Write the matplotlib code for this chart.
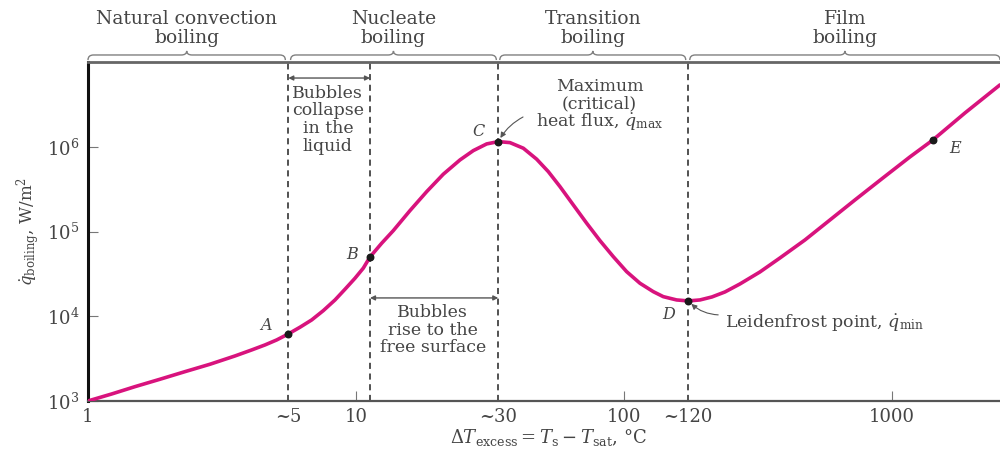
import numpy as np
import matplotlib.pyplot as plt
from matplotlib.path import Path
from matplotlib.patches import PathPatch

plt.rcParams["font.family"] = "DejaVu Serif"
plt.rcParams["mathtext.fontset"] = "dejavuserif"

# boiling curve (log-log axes)
dT = [1.00, 1.226, 1.497, 1.856, 2.301, 2.853, 3.537, 4.081, 4.575, 5.060,
      5.590, 6.180, 6.834, 7.551, 8.351, 9.100, 9.915, 10.65, 11.28, 12.47,
      13.78, 15.90, 18.36, 21.17, 24.44, 27.40, 30.74, 33.96, 37.54, 42.11,
      47.24, 52.19, 57.70, 64.69, 72.58, 81.36, 91.22, 102.3, 114.7, 128.6,
      140.1, 157.2, 173.8, 192.1, 213.0, 238.2, 270.9, 321.7, 382.1, 473.6,
      587.2, 727.8, 925.6, 1167, 1422, 1873, 2529]
q = [1000, 1209, 1475, 1804, 2218, 2713, 3399, 4001, 4583, 5252,
     6180, 7416, 9044, 11645, 15572, 20837, 28093, 37000, 50100, 72760,
     1.025e5, 1.765e5, 2.959e5, 4.748e5, 7.003e5, 9.019e5, 1.082e6, 1.152e6,
     1.121e6, 9.627e5, 7.138e5, 5.096e5, 3.390e5, 2.061e5, 1.253e5, 78080,
     50530, 33620, 24520, 19520, 17040, 15570, 15160, 15570, 16900, 19360,
     24060, 33340, 48790, 79570, 1.371e5, 2.361e5, 4.295e5, 7.601e5, 1.206e6,
     2.513e6, 5.380e6]

pt_names = ["A", "B", "C", "D", "E"]
pt_dT = [5.59, 11.28, 33.96, 173.8, 1422]
pt_q = [6180, 50100, 1.152e6, 15160, 1.206e6]

bounds = [5.59, 11.28, 33.96, 173.8]  # dashed regime boundaries
regions = ["Natural convection\nboiling", "Nucleate\nboiling",
           "Transition\nboiling", "Film\nboiling"]
region_span = [(1.0, 5.45), (5.7, 33.4), (34.4, 170), (176, 2530)]

xmaj = [1, 10, 100, 1000]
xmaj_lab = ["1", "10", "100", "1000"]
xmin_ = [5.59, 33.96, 173.8]
xmin_lab = ["~5", "~30", "~120"]
yticks = [1e3, 1e4, 1e5, 1e6]
ylabs = [r"$10^3$", r"$10^4$", r"$10^5$", r"$10^6$"]

XMAX = 2530
INK = "#454545"
MAG = "#d8137d"

fig = plt.figure(figsize=(10, 4.5), dpi=100)
ax = fig.add_axes([0.088, 0.109, 0.912, 0.753])
ax.set_xscale("log")
ax.set_yscale("log")
ax.set_xlim(1, XMAX)
ax.set_ylim(1e3, 1e7)

for b in bounds:
    ax.axvline(b, color="#222222", lw=1.1, dashes=(4, 3), zorder=2)

ax.plot(dT, q, color=MAG, lw=2.6, solid_capstyle="round",
        solid_joinstyle="round", zorder=3)
ax.scatter(pt_dT, pt_q, s=22, color="#1a1a1a", zorder=4)
offs = {"A": (-16, 6), "B": (-13, 2), "C": (-14, 7), "D": (-14, -10), "E": (16, -6)}
for n, x, y in zip(pt_names, pt_dT, pt_q):
    ax.annotate(n, (x, y), xytext=offs[n], textcoords="offset points",
                ha="center", va="center", fontsize=11.5, style="italic", color=INK)

# spines / ticks
ax.spines["right"].set_visible(False)
ax.spines["left"].set_linewidth(2.2)
ax.spines["left"].set_color("#111111")
ax.spines["top"].set_linewidth(2.0)
ax.spines["top"].set_color("#666666")
ax.spines["bottom"].set_linewidth(1.6)
ax.spines["bottom"].set_color("#555555")

ax.set_xticks(xmaj)
ax.set_xticklabels(xmaj_lab)
ax.set_xticks(xmin_, minor=True)
ax.set_xticklabels(xmin_lab, minor=True)
ax.set_yticks(yticks)
ax.set_yticklabels(ylabs)
ax.set_yticks([], minor=True)
ax.tick_params(axis="both", which="major", direction="in", length=7,
               width=0.8, color="#777777", labelsize=13, labelcolor=INK)
ax.tick_params(axis="x", which="minor", length=0, labelsize=13, labelcolor=INK)
ax.tick_params(axis="x", which="both", pad=5)
ax.tick_params(axis="y", pad=6)
ax.set_ylabel(r"$\dot{q}_{\rm boiling}$, W/m$^2$", fontsize=12, color=INK, labelpad=4)
fig.text(0.548, 0.028, r"$\Delta T_{\rm excess} = T_{\rm s} - T_{\rm sat}$, °C",
         ha="center", va="center", fontsize=13, color=INK)

# braces with regime labels above the axes
def fx(x):
    return np.log10(x) / np.log10(XMAX)

ye, yl, yp, dx = 1.006, 1.021, 1.033, 0.006
for (x0, x1), lab in zip(region_span, regions):
    a, b = fx(x0), fx(x1)
    c = (a + b) / 2
    verts = [(a, ye), (a, yl), (a + dx, yl), (c - dx, yl), (c, yl), (c, yp),
             (c, yl), (c + dx, yl), (b - dx, yl), (b, yl), (b, ye)]
    codes = [Path.MOVETO, Path.CURVE3, Path.CURVE3, Path.LINETO, Path.CURVE3,
             Path.CURVE3, Path.CURVE3, Path.CURVE3, Path.LINETO, Path.CURVE3,
             Path.CURVE3]
    ax.add_patch(PathPatch(Path(verts, codes), transform=ax.transAxes,
                           fill=False, edgecolor="#808080", lw=1.0, clip_on=False))
    ax.text(c, 1.10, lab, transform=ax.transAxes, ha="center", va="center",
            fontsize=13.5, color=INK, linespacing=1.1, clip_on=False)

# double arrows between boundaries
for (x0, x1), y in [((5.59, 11.28), 0.953), ((11.28, 33.96), 0.304)]:
    ax.annotate("", xy=(x0, y), xytext=(x1, y),
                xycoords=("data", "axes fraction"), textcoords=("data", "axes fraction"),
                arrowprops=dict(arrowstyle="<|-|>", color="#555555", lw=1.0,
                                mutation_scale=7, shrinkA=0, shrinkB=0))

ax.text(0.263, 0.830, "Bubbles\ncollapse\nin the\nliquid", transform=ax.transAxes,
        ha="center", va="center", fontsize=12.5, color=INK, linespacing=1.05)
ax.text(0.378, 0.209, "Bubbles\nrise to the\nfree surface", transform=ax.transAxes,
        ha="center", va="center", fontsize=12.5, color=INK, linespacing=1.05)
ax.text(0.561, 0.872, "Maximum\n(critical)\nheat flux, $\\dot{q}_{\\rm max}$",
        transform=ax.transAxes, ha="center", va="center", fontsize=12.5,
        color=INK, linespacing=1.0)
ax.text(0.698, 0.228, "Leidenfrost point, $\\dot{q}_{\\rm min}$",
        transform=ax.transAxes, ha="left", va="center", fontsize=12.5, color=INK)

ax.annotate("", xy=(pt_dT[2], pt_q[2]), xytext=(0.477, 0.838),
            textcoords="axes fraction",
            arrowprops=dict(arrowstyle="-|>", color="#555555", lw=0.8,
                            mutation_scale=8, shrinkA=0, shrinkB=3,
                            connectionstyle="arc3,rad=0.15"))
ax.annotate("", xy=(pt_dT[3], pt_q[3]), xytext=(0.691, 0.254),
            textcoords="axes fraction",
            arrowprops=dict(arrowstyle="-|>", color="#555555", lw=0.8,
                            mutation_scale=8, shrinkA=0, shrinkB=3,
                            connectionstyle="arc3,rad=-0.2"))

fig.savefig("out.png", dpi=100)
